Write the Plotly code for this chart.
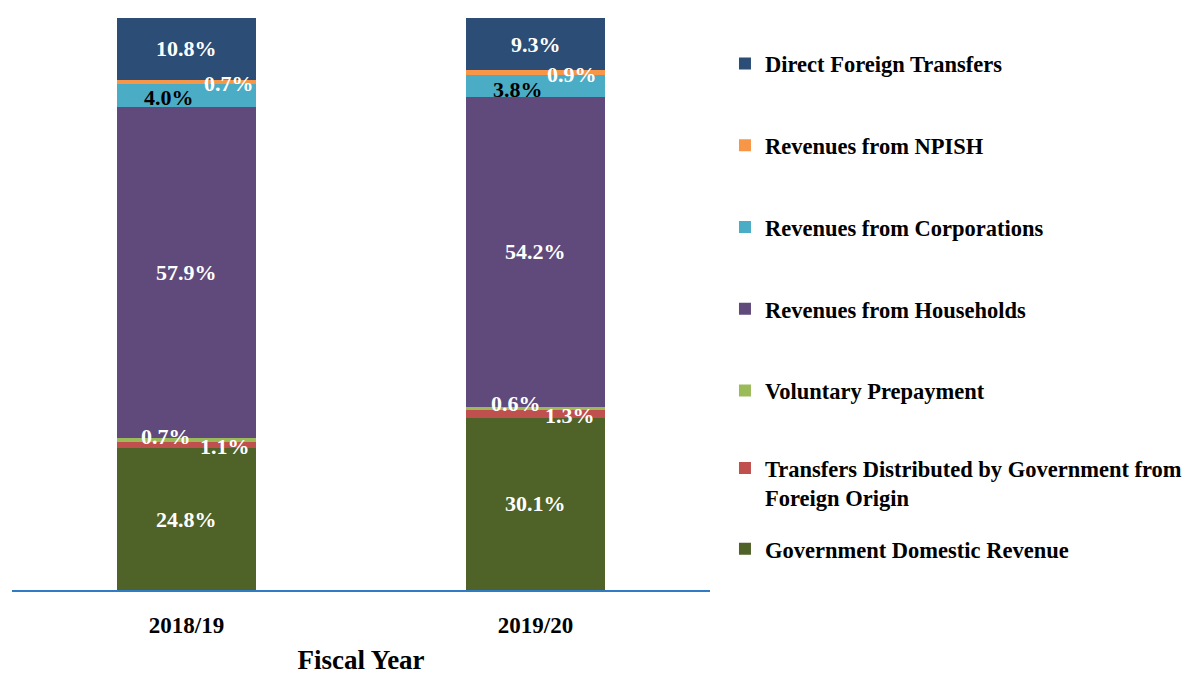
import plotly.graph_objects as go

# ── Data ──────────────────────────────────────────────────────────
years = ["2018/19", "2019/20"]

series_names = [
    "Government Domestic Revenue",
    "Transfers Distributed by Government from<br>Foreign Origin",
    "Voluntary Prepayment",
    "Revenues from Households",
    "Revenues from Corporations",
    "Revenues from NPISH",
    "Direct Foreign Transfers",
]
gov_domestic = [24.8, 30.1]
transfers_foreign = [1.1, 1.3]
voluntary_prepay = [0.7, 0.6]
households = [57.9, 54.2]
corporations = [4.0, 3.8]
npish = [0.7, 0.9]
direct_foreign = [10.8, 9.3]

series_values = [gov_domestic, transfers_foreign, voluntary_prepay, households,
                 corporations, npish, direct_foreign]

# ── Styling ───────────────────────────────────────────────────────
COLORS = ["#4F6228", "#C0504D", "#9BBB59", "#604A7B", "#4BACC6", "#F79646", "#2C4D75"]
FONT = "Liberation Serif"
# which legend box each series sits in (the two-line entry needs its own)
LEGEND_OF = ["legend3", "legend2", "legend", "legend", "legend", "legend", "legend"]

# label tweaks for the thin segments: series index -> (xshift, yshift, colour)
LABEL_TWEAKS = {
    1: [(38, -1, "white"), (34, -1, "white")],
    2: [(-21, 3, "white"), (-20, 5, "white")],
    4: [(-18, -2, "black"), (-18, -3, "black")],
    5: [(42, -2, "white"), (36, -2, "white")],
}

fig = go.Figure()
for i, (name, vals) in enumerate(zip(series_names, series_values)):
    fig.add_trace(go.Bar(
        name=name,
        x=years,
        y=vals,
        marker_color=COLORS[i],
        marker_line_width=0,
        legend=LEGEND_OF[i],
        legendgroup=str(i),
        legendrank=100 - i,
        hoverinfo="skip",
    ))

# value labels, placed at the middle of each segment
cum = [0.0 for _ in years]
for i, vals in enumerate(series_values):
    for j, v in enumerate(vals):
        mid = min(cum[j] + v / 2, 100 - v / 2)
        xs, ys, col = LABEL_TWEAKS.get(i, [(0, 0, "white")] * len(years))[j]
        fig.add_annotation(
            x=years[j], y=mid, text=f"{v:.1f}%", showarrow=False,
            xshift=xs, yshift=ys,
            font=dict(family=FONT, size=22, color=col, weight="bold"),
        )
        cum[j] += v

legend_font = dict(family=FONT, size=22.5, color="black", weight="bold")
legend_common = dict(
    traceorder="grouped", tracegroupgap=49.5,
    xref="container", x=0.6025, xanchor="left",
    yref="container", yanchor="top",
    valign="top", font=legend_font, itemclick=False, maxheight=1,
)

fig.update_layout(
    barmode="stack",
    bargap=0.6,
    width=1190,
    height=674,
    margin=dict(l=4, r=488, t=10, b=92),
    plot_bgcolor="white",
    paper_bgcolor="white",
    font=dict(family=FONT, color="black"),
    legend=dict(legend_common, y=0.949),
    legend2=dict(legend_common, y=0.349),
    legend3=dict(legend_common, y=0.229),
    xaxis=dict(
        showline=True, linecolor="#2F7BC4", linewidth=2,
        ticks="outside", ticklen=13, tickcolor="rgba(0,0,0,0)",
        tickfont=dict(family=FONT, size=23, color="black", weight="bold"),
        title=dict(text="Fiscal Year", standoff=14,
                   font=dict(family=FONT, size=27, color="black", weight="bold")),
    ),
    yaxis=dict(range=[0, 100], visible=False, showgrid=False),
)

fig.write_html("out.html")
